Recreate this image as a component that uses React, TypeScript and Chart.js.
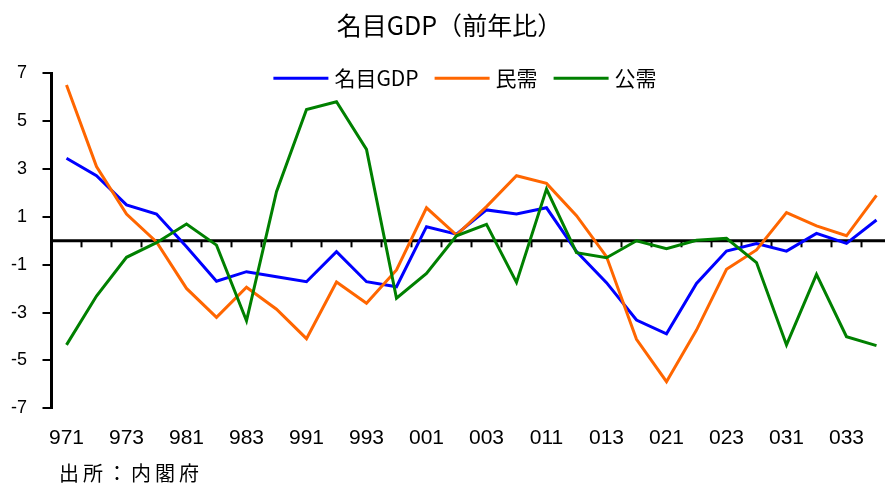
import React, { useEffect, useRef } from 'react';
import { Chart, registerables } from 'chart.js';

Chart.register(...registerables);

const categories = [
  '971', '972', '973', '974', '981', '982', '983', '984',
  '991', '992', '993', '994', '001', '002', '003', '004',
  '011', '012', '013', '014', '021', '022', '023', '024',
  '031', '032', '033', '034',
];

const nominalGDP = [
  3.45, 2.72, 1.5, 1.12, -0.25, -1.69, -1.29, -1.5,
  -1.71, -0.45, -1.71, -1.92, 0.59, 0.28, 1.29, 1.12,
  1.38, -0.45, -1.75, -3.31, -3.89, -1.78, -0.43, -0.11,
  -0.43, 0.31, -0.11, 0.87,
];

const privateDemand = [
  6.51, 3.1, 1.12, -0.05, -1.99, -3.2, -1.94, -2.86,
  -4.09, -1.72, -2.61, -1.22, 1.38, 0.24, 1.43, 2.72,
  2.4, 1.05, -0.66, -4.12, -5.89, -3.73, -1.19, -0.38,
  1.18, 0.62, 0.21, 1.9,
];

const publicDemand = [
  -4.35, -2.31, -0.69, -0.08, 0.7, -0.18, -3.34, 2.05,
  5.49, 5.81, 3.82, -2.4, -1.36, 0.21, 0.69, -1.74,
  2.16, -0.5, -0.71, 0.0, -0.33, 0.02, 0.1, -0.91,
  -4.35, -1.4, -4.01, -4.38,
];

const seriesNames = ['名目GDP', '民需', '公需'];
const seriesColors = ['#0000FF', '#FF6600', '#008000'];
const titleText = '名目GDP（前年比）';
const sourceText = '出所：内閣府';

const CJK = '"Noto Sans CJK JP", "Noto Sans CJK SC", sans-serif';
const LATIN = '"Liberation Sans", Arial, sans-serif';

const decorPlugin = {
  id: 'decor',
  beforeDatasetsDraw(chart: any) {
    const { ctx, chartArea, scales } = chart;
    const xs = scales.x;
    const ys = scales.y;
    const y0 = ys.getPixelForValue(0);
    ctx.save();
    ctx.strokeStyle = '#000';
    ctx.lineWidth = 3;
    ctx.beginPath();
    ctx.moveTo(chartArea.left, y0);
    ctx.lineTo(chartArea.right, y0);
    ctx.stroke();
    const half = (xs.getPixelForValue(1) - xs.getPixelForValue(0)) / 2;
    ctx.lineWidth = 2;
    for (let i = 0; i < categories.length; i++) {
      const px = xs.getPixelForValue(i) + half;
      ctx.beginPath();
      ctx.moveTo(px, y0);
      ctx.lineTo(px, y0 + 6.5);
      ctx.stroke();
    }
    ctx.restore();
  },
  afterDraw(chart: any) {
    const { ctx, chartArea } = chart;
    ctx.save();
    // legend
    ctx.font = `21px ${CJK}`;
    ctx.textBaseline = 'middle';
    ctx.textAlign = 'left';
    const lineLen = 55;
    const gapText = 6;
    const gapItem = 16;
    const ds = chart.data.datasets;
    const widths = ds.map((d: any) => ctx.measureText(d.label).width);
    let total = 0;
    widths.forEach((w: number, i: number) => {
      total += lineLen + gapText + w + (i < widths.length - 1 ? gapItem : 0);
    });
    let x = (chartArea.left + chartArea.right) / 2 - 6.5 - total / 2;
    const ly = chartArea.top + 5;
    ds.forEach((d: any, i: number) => {
      ctx.strokeStyle = d.borderColor;
      ctx.lineWidth = 3;
      ctx.beginPath();
      ctx.moveTo(x, ly);
      ctx.lineTo(x + lineLen, ly);
      ctx.stroke();
      x += lineLen + gapText;
      ctx.fillStyle = '#000';
      ctx.fillText(d.label, x, ly);
      x += widths[i] + gapItem;
    });
    // source note
    ctx.font = `20px ${CJK}`;
    (ctx as any).letterSpacing = '4px';
    ctx.fillStyle = '#000';
    ctx.fillText(sourceText, 59, 473.5);
    ctx.restore();
  },
};

export default function App() {
  const ref = useRef<HTMLCanvasElement | null>(null);

  useEffect(() => {
    document.body.style.margin = '0';
    const canvas = ref.current;
    if (!canvas) return;
    const chart = new Chart(canvas, {
      type: 'line',
      data: {
        labels: categories,
        datasets: [
          { label: seriesNames[0], data: nominalGDP, borderColor: seriesColors[0], backgroundColor: seriesColors[0], order: 3 },
          { label: seriesNames[1], data: privateDemand, borderColor: seriesColors[1], backgroundColor: seriesColors[1], order: 2 },
          { label: seriesNames[2], data: publicDemand, borderColor: seriesColors[2], backgroundColor: seriesColors[2], order: 1 },
        ],
      },
      options: {
        responsive: false,
        maintainAspectRatio: false,
        devicePixelRatio: 1,
        animation: false,
        layout: { padding: { top: 0, left: 7.5, right: 16.5, bottom: 0 } },
        elements: {
          point: { radius: 0, hoverRadius: 0 },
          line: { borderWidth: 3, tension: 0, borderCapStyle: 'butt', borderJoinStyle: 'miter' },
        },
        plugins: {
          legend: { display: false },
          tooltip: { enabled: false },
          title: {
            display: true,
            text: titleText,
            color: '#000',
            font: { family: CJK, size: 25, weight: 'normal' },
            padding: { top: 10, bottom: 33.3 },
          },
        },
        scales: {
          x: {
            type: 'category',
            offset: true,
            grid: { display: false, drawTicks: false },
            border: { display: false },
            ticks: {
              autoSkip: false,
              maxRotation: 0,
              minRotation: 0,
              padding: 17,
              color: '#000',
              font: { family: LATIN, size: 21 },
              callback: (_v: any, idx: number) => (idx % 2 === 0 ? categories[idx] : ''),
            },
            afterFit: (s: any) => {
              s.height = 74.7;
            },
          },
          y: {
            min: -7,
            max: 7,
            ticks: {
              stepSize: 2,
              padding: 15.5,
              color: '#000',
              font: { family: LATIN, size: 18 },
            },
            grid: { drawOnChartArea: false, drawTicks: true, tickLength: 9, color: '#000', lineWidth: 2 },
            border: { display: true, color: '#000', width: 3 },
            afterFit: (s: any) => {
              s.width = 44;
            },
          },
        },
      },
      plugins: [decorPlugin],
    });
    return () => chart.destroy();
  }, []);

  return (
    <div style={{ position: 'fixed', left: 0, top: 0, width: 885, height: 483, overflow: 'hidden', background: '#fff' }}>
      <canvas ref={ref} width={908} height={483} style={{ display: 'block', width: 908, height: 483 }} />
    </div>
  );
}
